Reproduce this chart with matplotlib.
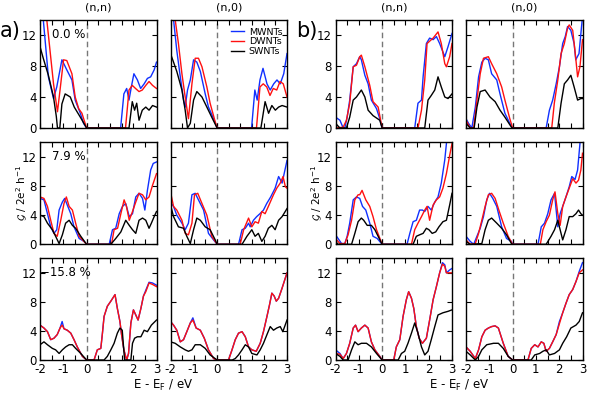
import matplotlib
matplotlib.use('Agg')
import matplotlib.pyplot as plt
from matplotlib.ticker import MultipleLocator
from matplotlib.lines import Line2D

# ---------------- data (E in eV, G in 2e^2/h) ----------------
series_names = ['MWNTs', 'DWNTs', 'SWNTs']
series_colors = ['#1030ff', '#ff1010', 'black']
strain_labels = ['0.0 %', '7.9 %', '\u221215.8 %']
column_titles = ['(n,n)', '(n,0)', '(n,n)', '(n,0)']
x_ticks = [-2, -1, 0, 1, 2, 3]
y_ticks = [0, 4, 8, 12]

# row 1 : 0.0 %
a_nn_00_mw = [(-2,17),(-1.86,14),(-1.64,6.6),(-1.42,3.8),(-1.28,5.3),(-1.06,8.8),(-0.85,7.5),(-0.63,6.2),(-0.49,3.6),(-0.27,1.9),(-0.13,0.6),(0,0),(1.46,0),(1.6,4.4),(1.72,5.1),(1.82,3.6),(1.92,5.3),(2.03,7.0),(2.18,6.2),(2.32,5.1),(2.47,5.7),(2.61,6.4),(2.75,6.6),(2.9,7.5),(3,8.5)]
a_nn_00_dw = [(-2,20),(-1.71,14),(-1.57,10),(-1.42,5.7),(-1.25,2.1),(-1.14,4.9),(-0.99,8.8),(-0.85,8.7),(-0.63,7.0),(-0.49,4.0),(-0.34,2.5),(-0.2,1.9),(0,0),(1.67,0),(1.82,4.9),(1.96,5.5),(2.1,5.1),(2.25,4.7),(2.39,4.9),(2.54,5.5),(2.68,6.0),(2.83,5.5),(3,5.1)]
a_nn_00_sw = [(-2,10.5),(-1.86,9.0),(-1.64,6.8),(-1.42,4.0),(-1.3,1.5),(-1.25,0),(-1.15,0),(-1.06,3.1),(-0.92,4.4),(-0.7,4.0),(-0.53,2.7),(-0.27,1.4),(0,0),(1.82,0),(1.96,3.4),(2.06,2.3),(2.15,3.2),(2.25,1.0),(2.39,2.3),(2.54,2.7),(2.68,2.3),(2.83,2.9),(3,2.7)]

a_n0_00_mw = [(-2,18),(-1.87,14),(-1.73,10),(-1.58,6.6),(-1.44,3.6),(-1.37,2.7),(-1.27,4.9),(-1.15,6.2),(-1.01,8.8),(-0.87,8.5),(-0.72,7.3),(-0.51,4.4),(-0.37,2.7),(-0.15,1.2),(0,0),(1.48,0),(1.62,4.9),(1.72,3.6),(1.84,6.2),(1.97,7.7),(2.14,5.7),(2.28,4.9),(2.43,5.7),(2.57,6.2),(2.71,5.7),(2.86,7.0),(3,9.6)]
a_n0_00_dw = [(-2,20),(-1.8,14),(-1.66,10.9),(-1.51,7.0),(-1.37,4.0),(-1.23,1.2),(-1.08,5.7),(-0.94,9.0),(-0.8,9.0),(-0.65,7.9),(-0.44,5.3),(-0.3,3.2),(-0.1,1.0),(0,0),(1.69,0),(1.84,5.3),(1.98,5.7),(2.13,5.3),(2.27,4.2),(2.41,5.1),(2.56,4.9),(2.7,6.0),(2.84,5.7),(3,4.0)]
a_n0_00_sw = [(-2,9.6),(-1.87,8.5),(-1.73,7.3),(-1.51,4.9),(-1.37,2.3),(-1.27,0),(-1.15,0.6),(-1.01,3.6),(-0.87,4.7),(-0.65,4.0),(-0.44,2.7),(-0.23,1.4),(0,0),(1.88,0),(2.06,3.4),(2.21,1.9),(2.35,2.9),(2.5,2.3),(2.64,2.7),(2.79,2.9),(3,2.7)]

b_nn_00_mw = [(-2,1.4),(-1.81,1.0),(-1.67,0),(-1.6,0),(-1.5,1.4),(-1.39,3.6),(-1.24,7.9),(-1.1,8.3),(-0.96,9.2),(-0.89,8.8),(-0.74,6.8),(-0.6,5.7),(-0.46,3.6),(-0.24,2.5),(-0.1,1.2),(0,0),(1.4,0),(1.54,3.2),(1.69,3.6),(1.76,6.6),(1.9,10.9),(2.04,11.6),(2.19,11.4),(2.33,11.8),(2.47,10.9),(2.69,9.2),(2.83,10.5),(3,12.2)]
b_nn_00_dw = [(-2,0),(-1.67,0.1),(-1.53,1.0),(-1.39,3.2),(-1.24,7.9),(-1.1,8.1),(-0.96,9.2),(-0.89,9.4),(-0.74,7.9),(-0.53,5.5),(-0.39,3.4),(-0.17,2.7),(0,0),(1.54,0),(1.69,2.3),(1.83,6.2),(1.93,10.9),(2.04,11.2),(2.19,11.6),(2.4,12.4),(2.54,10.9),(2.69,8.3),(2.76,7.9),(2.9,9.2),(3,10.9)]
b_nn_00_sw = [(-2,0.6),(-1.81,0),(-1.53,0),(-1.39,1.4),(-1.24,3.6),(-1.1,4.0),(-0.89,4.9),(-0.74,4.0),(-0.6,2.3),(-0.39,1.6),(-0.1,1.0),(0,0),(1.83,0),(1.97,3.6),(2.11,4.2),(2.26,4.9),(2.4,6.6),(2.54,5.3),(2.69,4.0),(2.83,3.8),(3,4.4)]

b_n0_00_mw = [(-2,1.2),(-1.89,0.6),(-1.75,0),(-1.6,2.7),(-1.46,6.6),(-1.32,8.5),(-1.18,9.0),(-1.04,8.8),(-0.9,7.0),(-0.68,6.2),(-0.54,4.4),(-0.33,1.9),(-0.12,0.6),(0,0),(1.44,0),(1.58,2.3),(1.72,3.6),(1.87,5.7),(2.01,7.9),(2.15,10.9),(2.26,11.8),(2.36,13.1),(2.5,12.6),(2.64,10.9),(2.71,8.8),(2.85,9.6),(3,14.4)]
b_n0_00_dw = [(-2,1.0),(-1.82,0),(-1.67,0),(-1.53,3.6),(-1.39,7.0),(-1.25,9.0),(-1.04,9.2),(-0.9,8.3),(-0.68,7.0),(-0.47,5.3),(-0.33,3.6),(-0.12,1.2),(0,0),(1.68,0),(1.79,3.2),(1.94,6.2),(2.08,9.6),(2.22,10.9),(2.36,12.9),(2.43,13.3),(2.58,12.6),(2.69,9.6),(2.79,6.6),(2.89,7.9),(3,11.4)]
b_n0_00_sw = [(-2,0.6),(-1.82,0),(-1.65,0),(-1.53,2.7),(-1.39,4.7),(-1.18,4.9),(-0.97,4.0),(-0.75,3.4),(-0.54,2.3),(-0.33,1.4),(-0.05,0.1),(0,0),(1.94,0),(2.08,3.2),(2.22,5.7),(2.36,6.2),(2.5,6.8),(2.64,5.3),(2.79,3.6),(2.93,3.8),(3,3.8)]

# row 2 : 7.9 %
a_nn_79_mw = [(-2,6.3),(-1.83,6.1),(-1.68,4.2),(-1.54,2.4),(-1.4,1.5),(-1.28,2.0),(-1.18,4.7),(-1.04,5.8),(-0.94,6.3),(-0.83,5.4),(-0.68,4.2),(-0.54,2.4),(-0.32,0.8),(-0.11,0.4),(0,0),(0.97,0),(1.11,2.0),(1.25,2.2),(1.4,4.2),(1.54,5.2),(1.68,5.6),(1.83,3.8),(1.97,4.2),(2.11,6.5),(2.25,7.0),(2.4,6.3),(2.5,4.7),(2.61,7.4),(2.75,10.2),(2.86,11.1),(3,11.3)]
a_nn_79_dw = [(-2,6.5),(-1.83,6.3),(-1.68,5.2),(-1.54,3.3),(-1.4,1.5),(-1.26,1.1),(-1.11,3.3),(-0.97,5.6),(-0.87,6.5),(-0.75,5.2),(-0.61,4.7),(-0.47,2.9),(-0.32,1.1),(0,0),(1.07,0),(1.18,2.0),(1.33,2.2),(1.47,4.2),(1.61,6.1),(1.71,5.2),(1.83,3.3),(1.97,4.5),(2.11,5.8),(2.25,7.0),(2.4,6.8),(2.54,6.1),(2.68,6.5),(2.83,8.1),(3,9.7)]
a_nn_79_sw = [(-2,4.0),(-1.83,3.8),(-1.68,2.9),(-1.47,2.0),(-1.33,1.1),(-1.18,0.1),(-1.04,1.3),(-0.9,2.9),(-0.75,3.3),(-0.61,2.6),(-0.47,2.2),(-0.25,1.1),(0,0),(1.04,0),(1.25,0.8),(1.47,1.7),(1.68,3.3),(1.83,2.6),(1.97,2.0),(2.11,1.5),(2.25,3.3),(2.4,3.6),(2.54,3.3),(2.68,2.2),(2.78,2.9),(2.9,3.8),(3,4.5)]

a_n0_79_mw = [(-2,5.8),(-1.87,5.2),(-1.73,4.0),(-1.51,2.9),(-1.37,2.0),(-1.23,2.9),(-1.08,6.8),(-0.94,7.0),(-0.8,6.1),(-0.58,4.7),(-0.37,1.5),(-0.15,0.6),(0,0),(0.92,0),(1.07,2.0),(1.21,2.2),(1.35,2.9),(1.42,2.4),(1.56,3.3),(1.7,3.8),(1.84,4.2),(1.99,4.7),(2.13,5.6),(2.3,6.5),(2.49,7.7),(2.64,9.3),(2.79,8.4),(3,11.5)]
a_n0_79_dw = [(-2,7.2),(-1.87,5.2),(-1.73,4.7),(-1.51,3.3),(-1.37,1.5),(-1.23,1.3),(-1.08,2.9),(-0.97,6.8),(-0.83,7.0),(-0.65,5.6),(-0.44,4.0),(-0.23,1.1),(0,0),(0.99,0),(1.14,2.0),(1.35,3.6),(1.49,2.4),(1.63,3.1),(1.77,2.9),(1.92,4.5),(2.06,4.2),(2.2,5.2),(2.42,6.8),(2.56,7.7),(2.71,8.4),(2.83,9.3),(2.93,7.9),(3,7.7)]
a_n0_79_sw = [(-2,5.4),(-1.87,3.8),(-1.66,2.4),(-1.44,2.2),(-1.3,1.1),(-1.15,0.1),(-1.01,2.0),(-0.87,3.6),(-0.72,3.3),(-0.51,2.4),(-0.3,2.0),(-0.08,0.6),(0,0),(1.07,0),(1.28,1.1),(1.49,2.0),(1.63,1.1),(1.77,1.5),(1.92,0.4),(2.06,1.1),(2.2,2.2),(2.35,2.6),(2.49,2.0),(2.64,3.3),(2.79,3.8),(3,4.9)]

b_nn_79_mw = [(-2,1.3),(-1.89,0.8),(-1.74,0.1),(-1.6,0.1),(-1.5,1.1),(-1.39,2.9),(-1.24,6.1),(-1.1,6.5),(-0.96,6.3),(-0.84,5.2),(-0.7,4.7),(-0.53,2.9),(-0.39,1.1),(-0.21,0.8),(0,0),(1.07,0),(1.19,1.5),(1.33,3.1),(1.47,3.3),(1.61,4.7),(1.73,4.7),(1.83,4.5),(1.97,5.2),(2.11,4.7),(2.26,5.8),(2.4,6.5),(2.54,8.4),(2.69,11.6),(2.76,13.8),(2.85,17)]
b_nn_79_dw = [(-2,0.8),(-1.81,0.1),(-1.6,0.1),(-1.46,1.3),(-1.31,3.3),(-1.17,6.1),(-1.03,6.8),(-0.96,6.8),(-0.86,7.4),(-0.7,6.1),(-0.53,5.2),(-0.39,3.8),(-0.24,2.0),(-0.13,1.1),(0,0),(1.26,0),(1.4,2.0),(1.54,2.9),(1.69,3.8),(1.83,4.7),(1.93,5.2),(2.04,3.3),(2.19,5.4),(2.33,6.1),(2.47,6.5),(2.61,7.7),(2.76,9.7),(2.9,12.2),(3,13.8)]
b_nn_79_sw = [(-2,0.4),(-1.89,0),(-1.31,0),(-1.17,1.5),(-1.03,3.1),(-0.89,3.6),(-0.79,3.3),(-0.64,2.6),(-0.46,2.6),(-0.31,2.0),(-0.17,1.1),(0,0),(1.33,0),(1.47,1.1),(1.61,1.3),(1.76,1.5),(1.9,2.2),(2.01,2.0),(2.15,1.5),(2.3,1.7),(2.44,2.4),(2.61,3.1),(2.76,3.3),(2.9,5.4),(3,7.0)]

b_n0_79_mw = [(-2,1.1),(-1.82,0.4),(-1.67,0),(-1.53,1.1),(-1.39,2.2),(-1.25,3.8),(-1.11,6.1),(-0.99,7.0),(-0.85,6.3),(-0.68,5.2),(-0.47,2.4),(-0.26,0.8),(-0.05,0.4),(0,0),(1.09,0),(1.23,2.4),(1.37,2.9),(1.51,4.2),(1.65,6.1),(1.8,7.0),(1.94,2.4),(2.04,4.2),(2.15,5.2),(2.29,6.5),(2.43,7.9),(2.54,9.3),(2.68,8.9),(2.79,10.2),(2.89,13.8),(2.95,17)]
b_n0_79_dw = [(-2,0.6),(-1.82,0),(-1.6,0.1),(-1.46,1.5),(-1.32,3.3),(-1.18,5.2),(-1.04,6.8),(-0.9,7.0),(-0.75,6.3),(-0.57,4.5),(-0.4,2.9),(-0.19,1.1),(0,0),(1.19,0),(1.3,2.0),(1.44,3.1),(1.58,4.0),(1.72,6.1),(1.82,7.2),(1.94,4.2),(2.04,2.6),(2.15,5.2),(2.29,6.5),(2.43,7.7),(2.58,9.0),(2.72,8.4),(2.83,8.8),(2.93,10.2),(3,12.5)]
b_n0_79_sw = [(-2,0.4),(-1.82,0),(-1.32,0.1),(-1.18,2.0),(-1.04,3.3),(-0.9,3.6),(-0.68,2.9),(-0.47,2.2),(-0.26,1.3),(-0.05,0.1),(0,0),(1.44,0),(1.65,1.1),(1.8,2.0),(1.94,3.3),(2.04,2.0),(2.15,0.6),(2.29,2.0),(2.43,3.8),(2.58,3.8),(2.72,4.2),(2.83,4.7),(2.93,4.2),(3,4.0)]

# row 3 : -15.8 %
a_nn_158_mw = [(-2,4.8),(-1.83,4.4),(-1.68,3.9),(-1.54,2.8),(-1.4,3.0),(-1.26,3.5),(-1.14,4.4),(-1.05,5.3),(-0.97,4.3),(-0.83,4.1),(-0.68,3.7),(-0.54,2.8),(-0.4,1.8),(-0.18,0.5),(0,0),(0.32,0),(0.46,1.4),(0.61,1.6),(0.68,3.7),(0.75,6.0),(0.89,7.4),(1.04,8.1),(1.22,9.0),(1.32,7.1),(1.43,5.3),(1.5,3.5),(1.6,1.4),(1.72,0),(1.8,0.9),(1.9,5.1),(2.01,6.9),(2.11,6.2),(2.21,5.5),(2.33,7.1),(2.44,8.8),(2.54,9.6),(2.68,10.7),(2.83,10.6),(3,10.3)]
a_nn_158_dw = [(-2,4.8),(-1.83,4.4),(-1.68,3.9),(-1.54,2.8),(-1.4,3.0),(-1.26,3.5),(-1.14,4.4),(-1.05,4.8),(-0.97,4.3),(-0.83,4.1),(-0.68,3.7),(-0.54,2.8),(-0.4,1.8),(-0.18,0.5),(0,0),(0.32,0),(0.46,1.4),(0.61,1.6),(0.68,3.7),(0.75,6.0),(0.89,7.4),(1.04,8.1),(1.22,9.0),(1.32,7.1),(1.43,5.3),(1.5,3.5),(1.6,1.4),(1.72,0),(1.8,0.9),(1.9,5.1),(2.01,6.9),(2.11,6.2),(2.21,5.5),(2.33,7.1),(2.44,8.8),(2.54,9.4),(2.68,10.6),(2.83,10.4),(3,10.1)]
a_nn_158_sw = [(-2,2.1),(-1.83,2.5),(-1.68,2.1),(-1.47,1.6),(-1.33,1.4),(-1.18,0.9),(-1.04,1.4),(-0.9,1.8),(-0.75,2.1),(-0.61,2.1),(-0.47,1.6),(-0.25,0.9),(0,0),(0.75,0),(0.89,0.5),(1.04,1.4),(1.18,2.3),(1.32,3.7),(1.43,4.4),(1.53,4.1),(1.63,0),(1.9,0),(1.97,2.3),(2.06,3.0),(2.18,3.2),(2.33,3.2),(2.47,4.1),(2.61,3.9),(2.78,4.8),(3,5.5)]

a_n0_158_mw = [(-2,5.3),(-1.87,4.8),(-1.73,4.1),(-1.58,2.5),(-1.44,2.8),(-1.3,3.9),(-1.15,5.1),(-1.04,5.8),(-0.9,4.4),(-0.72,4.1),(-0.55,3.0),(-0.37,1.4),(-0.15,0.2),(0,0),(0.49,0),(0.64,1.4),(0.78,2.8),(0.92,3.7),(1.07,3.9),(1.21,3.2),(1.35,1.8),(1.49,1.4),(1.68,1.2),(1.85,2.3),(1.99,3.9),(2.14,6.0),(2.25,7.6),(2.35,9.2),(2.45,8.8),(2.54,8.1),(2.64,8.5),(2.79,9.9),(3,12.0)]
a_n0_158_dw = [(-2,5.3),(-1.87,4.8),(-1.73,4.1),(-1.58,2.5),(-1.44,2.8),(-1.3,3.9),(-1.15,5.1),(-1.04,5.5),(-0.9,4.4),(-0.72,4.1),(-0.55,3.0),(-0.37,1.4),(-0.15,0.2),(0,0),(0.49,0),(0.64,1.4),(0.78,2.8),(0.92,3.7),(1.07,3.9),(1.21,3.2),(1.35,1.8),(1.49,1.4),(1.68,1.2),(1.85,2.3),(1.99,3.9),(2.14,6.0),(2.25,7.6),(2.35,9.2),(2.45,8.8),(2.54,8.1),(2.64,8.5),(2.79,9.9),(3,12.0)]
a_n0_158_sw = [(-2,2.5),(-1.8,2.3),(-1.58,1.8),(-1.37,1.4),(-1.23,1.2),(-1.08,1.4),(-0.94,2.1),(-0.72,2.1),(-0.51,1.6),(-0.3,0.7),(0,0),(0.65,0),(0.78,0.2),(0.92,0.7),(1.07,1.4),(1.21,2.1),(1.35,1.8),(1.49,0.9),(1.71,0.7),(1.85,1.4),(1.99,2.3),(2.14,3.5),(2.28,4.6),(2.42,4.1),(2.56,4.4),(2.71,4.6),(2.82,3.9),(3,5.5)]

b_nn_158_mw = [(-2,1.4),(-1.81,0.9),(-1.67,0.2),(-1.53,0.9),(-1.39,2.3),(-1.24,4.4),(-1.14,4.8),(-1.03,3.9),(-0.89,4.4),(-0.74,4.8),(-0.6,4.4),(-0.46,2.5),(-0.31,1.4),(-0.1,0.5),(0,0),(0.5,0),(0.61,1.8),(0.76,2.8),(0.9,6.0),(1.04,8.3),(1.14,9.4),(1.26,8.5),(1.36,7.1),(1.47,4.6),(1.59,3.0),(1.73,2.3),(1.9,3.0),(2.04,5.5),(2.19,8.3),(2.33,10.1),(2.47,12.0),(2.59,13.4),(2.69,13.1),(2.76,12.0),(2.9,12.4),(3,12.6)]
b_nn_158_dw = [(-2,0.9),(-1.81,0.8),(-1.67,0.2),(-1.53,0.9),(-1.39,2.3),(-1.24,4.4),(-1.14,4.8),(-1.03,3.9),(-0.89,4.4),(-0.74,4.8),(-0.6,4.4),(-0.46,2.5),(-0.31,1.4),(-0.1,0.5),(0,0),(0.5,0),(0.61,1.8),(0.76,2.8),(0.9,6.0),(1.04,8.3),(1.14,9.4),(1.26,8.5),(1.36,7.1),(1.47,4.6),(1.59,3.0),(1.73,2.3),(1.9,3.0),(2.04,5.5),(2.19,8.3),(2.33,10.1),(2.47,12.0),(2.59,13.2),(2.69,12.9),(2.76,12.0),(2.9,12.0),(3,12.0)]
b_nn_158_sw = [(-2,0.9),(-1.81,0.5),(-1.67,0),(-1.46,0),(-1.31,1.4),(-1.17,2.5),(-1.03,2.1),(-0.89,2.3),(-0.67,2.3),(-0.46,1.8),(-0.24,0.9),(0,0),(0.69,0),(0.83,0.9),(0.97,1.2),(1.11,2.3),(1.26,3.7),(1.4,5.1),(1.54,3.7),(1.69,1.8),(1.83,0.7),(1.97,1.2),(2.11,2.8),(2.26,4.6),(2.4,6.2),(2.61,6.5),(2.83,6.7),(3,6.9)]

b_n0_158_mw = [(-2,1.8),(-1.82,1.2),(-1.6,0.2),(-1.46,1.4),(-1.32,3.2),(-1.18,4.1),(-1.04,4.4),(-0.9,4.6),(-0.75,4.7),(-0.61,4.4),(-0.4,2.3),(-0.19,0.5),(0,0),(0.66,0),(0.8,1.6),(0.95,2.1),(1.09,1.8),(1.23,2.5),(1.34,2.3),(1.44,1.2),(1.58,1.6),(1.72,2.5),(1.87,3.5),(2.01,5.3),(2.15,6.5),(2.29,7.8),(2.43,9.0),(2.58,9.7),(2.72,10.8),(2.86,12.2),(3,13.4)]
b_n0_158_dw = [(-2,1.8),(-1.82,1.2),(-1.6,0.2),(-1.46,1.4),(-1.32,3.2),(-1.18,4.1),(-1.04,4.4),(-0.9,4.6),(-0.75,4.7),(-0.61,4.4),(-0.4,2.3),(-0.19,0.5),(0,0),(0.66,0),(0.8,1.6),(0.95,2.1),(1.09,1.8),(1.23,2.5),(1.34,2.3),(1.44,1.2),(1.58,1.6),(1.72,2.5),(1.87,3.5),(2.01,5.0),(2.15,6.5),(2.29,7.8),(2.43,9.0),(2.58,9.7),(2.72,10.8),(2.86,12.0),(3,12.4)]
b_n0_158_sw = [(-2,1.2),(-1.82,0.7),(-1.6,0),(-1.46,0.5),(-1.32,1.4),(-1.11,2.1),(-0.82,2.3),(-0.61,2.3),(-0.4,1.6),(-0.19,0.5),(0,0),(0.8,0),(0.95,0.7),(1.16,0.9),(1.3,1.2),(1.44,1.4),(1.58,0.7),(1.8,0.9),(2.01,1.4),(2.15,2.3),(2.32,3.2),(2.5,4.4),(2.72,4.8),(2.86,5.3),(3,6.5)]

panel_data = [
    [(a_nn_00_mw, a_nn_00_dw, a_nn_00_sw), (a_n0_00_mw, a_n0_00_dw, a_n0_00_sw),
     (b_nn_00_mw, b_nn_00_dw, b_nn_00_sw), (b_n0_00_mw, b_n0_00_dw, b_n0_00_sw)],
    [(a_nn_79_mw, a_nn_79_dw, a_nn_79_sw), (a_n0_79_mw, a_n0_79_dw, a_n0_79_sw),
     (b_nn_79_mw, b_nn_79_dw, b_nn_79_sw), (b_n0_79_mw, b_n0_79_dw, b_n0_79_sw)],
    [(a_nn_158_mw, a_nn_158_dw, a_nn_158_sw), (a_n0_158_mw, a_n0_158_dw, a_n0_158_sw),
     (b_nn_158_mw, b_nn_158_dw, b_nn_158_sw), (b_n0_158_mw, b_n0_158_dw, b_n0_158_sw)],
]

# ---------------- layout ----------------
W, H = 593, 395
fig = plt.figure(figsize=(W / 100, H / 100), dpi=100)
col_left_px = [40, 170.5, 335.5, 466]
col_w_px = 116.5
row_px = [(19.5, 128), (142.3, 244.3), (258.3, 360)]

FS = 8.5
axes = [[None] * 4 for _ in range(3)]
for r in range(3):
    top, bot = row_px[r]
    for c in range(4):
        ax = fig.add_axes([col_left_px[c] / W, 1 - bot / H, col_w_px / W, (bot - top) / H])
        axes[r][c] = ax
        for (pts, color) in zip(panel_data[r][c], series_colors):
            xs = [p[0] for p in pts]
            ys = [p[1] for p in pts]
            ax.plot(xs, ys, color=color, lw=1.0, zorder=2)
        ax.axvline(0, color='#777777', lw=1.0, ls=(0, (4, 2.5)), zorder=1.5)
        ax.set_xlim(-2, 3)
        ax.set_ylim(0, 14)
        ax.set_xticks(x_ticks)
        ax.xaxis.set_minor_locator(MultipleLocator(0.5))
        ax.set_yticks(y_ticks)
        ax.tick_params(which='both', direction='in', top=True, right=True,
                       length=3.5, width=0.8, labelsize=FS, pad=2.5)
        for s in ax.spines.values():
            s.set_linewidth(1.0)
            s.set_zorder(3)
        if r < 2:
            ax.tick_params(labelbottom=False)
        else:
            ax.set_xticklabels(['-2', '-1', '0', '1', '2', '3'])
        if c in (1, 3):
            ax.tick_params(labelleft=False)
        if c == 0:
            ax.text(0.1 if r < 2 else 0.0, 0.86, strain_labels[r], transform=ax.transAxes,
                    fontsize=FS, ha='left', va='center')
        if r == 0:
            ax.text(0.5, 1.0 + 12.5 / 108.5, column_titles[c], transform=ax.transAxes,
                    fontsize=8, ha='center', va='center')

# legend
handles = [Line2D([], [], color=col, lw=1.0) for col in series_colors]
axes[0][1].legend(handles, series_names, loc='upper right', bbox_to_anchor=(0.96, 0.925),
                  frameon=False, fontsize=6.8, handlelength=1.4, handletextpad=0.5,
                  labelspacing=0.08, borderpad=0, borderaxespad=0)

# panel letters
fig.text(0 / W, 1 - 31 / H, 'a)', fontsize=15, ha='left', va='center')
fig.text(296 / W, 1 - 31 / H, 'b)', fontsize=15, ha='left', va='center')

# axis labels
ylab = r'$\mathcal{G}$ / 2e$^{2}$ h$^{-1}$'
fig.text(22 / W, 1 - 193 / H, ylab, rotation=90, fontsize=7.5, ha='center', va='center')
fig.text(317 / W, 1 - 193 / H, ylab, rotation=90, fontsize=7.5, ha='center', va='center')
xlab = r'E - E$_\mathrm{F}$ / eV'
fig.text(163.5 / W, 1 - 385 / H, xlab, fontsize=8.5, ha='center', va='center')
fig.text(459 / W, 1 - 385 / H, xlab, fontsize=8.5, ha='center', va='center')

fig.savefig('out.png', dpi=100)
